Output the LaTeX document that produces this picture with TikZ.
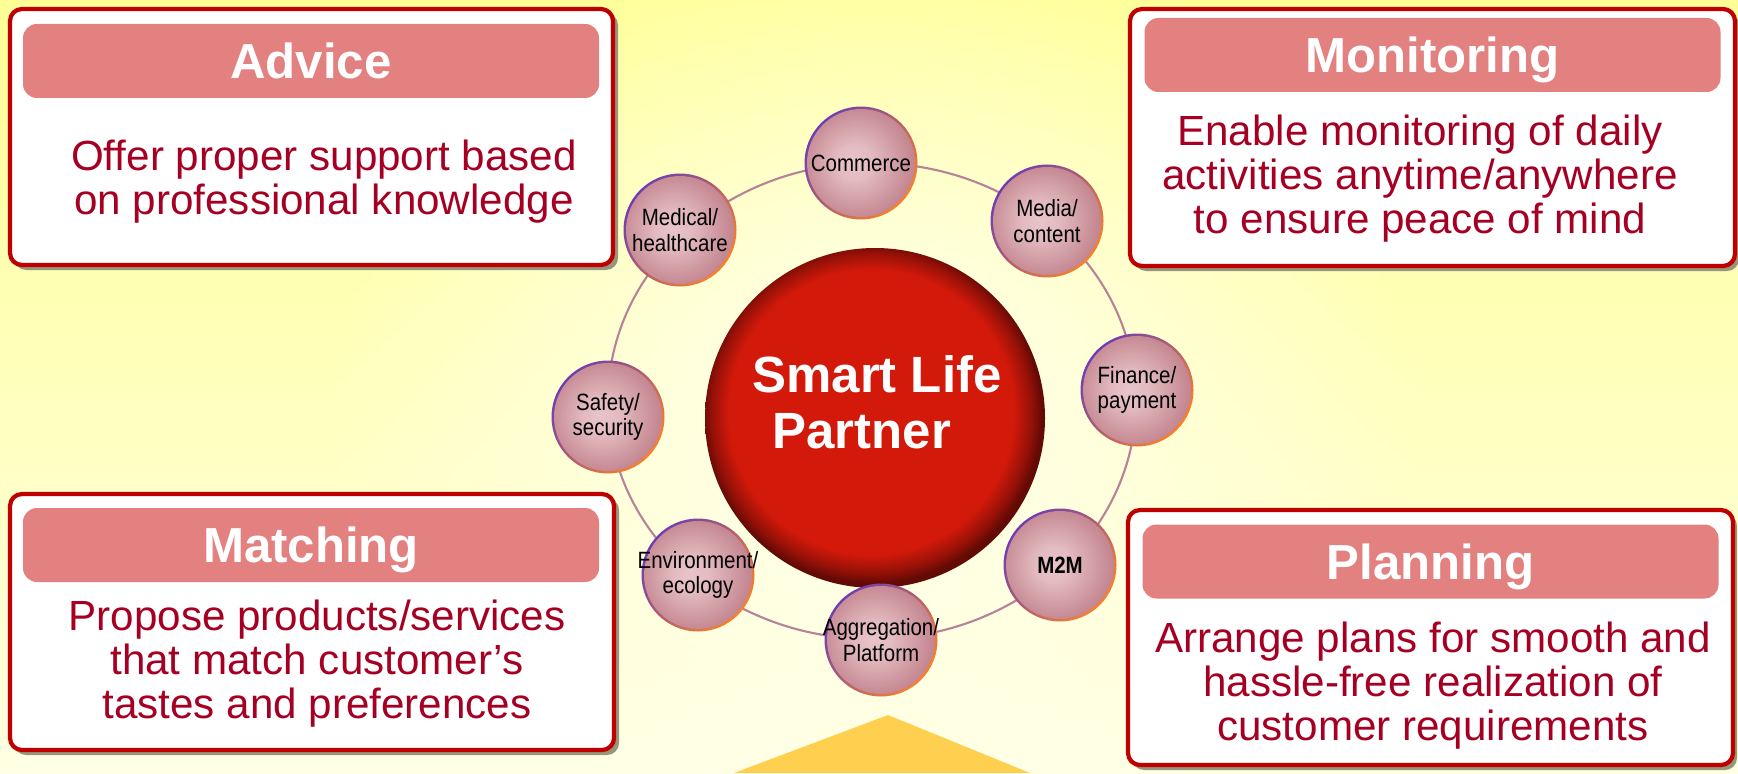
\documentclass[tikz,border=0pt]{standalone}
\usepackage{fontspec}
\setmainfont{Liberation Sans}
\newfontfamily\topicfont[FakeStretch=0.87]{Liberation Sans}
\usepackage{tikz}
\usetikzlibrary{shapes, fadings}
\definecolor{boxred}{RGB}{192, 0, 0}
\definecolor{headpink}{RGB}{227, 128, 128}
\definecolor{bodyred}{RGB}{165, 0, 35}
\definecolor{ringmauve}{RGB}{185, 130, 150}
\definecolor{smartred}{RGB}{210, 25, 10}
\definecolor{smartdark}{RGB}{100, 10, 5}
\definecolor{topicin}{RGB}{232, 196, 200}
\definecolor{topicout}{RGB}{196, 134, 144}
\definecolor{ringpurple}{RGB}{110, 60, 180}
\definecolor{ringred}{RGB}{225, 40, 90}
\definecolor{ringorange}{RGB}{250, 130, 40}
\definecolor{bgtop}{RGB}{255, 255, 150}
\definecolor{bgbottom}{RGB}{255, 255, 228}
\definecolor{glowcream}{RGB}{255, 255, 238}
\definecolor{arrowyellow}{RGB}{255, 208, 80}
\definecolor{shadowgray}{RGB}{150, 150, 125}
\pgfdeclareradialshading{partnerdisc}{\pgfpoint{-1bp}{1.5bp}}{color(0bp)=(smartred); color(21bp)=(smartred); color(23.5bp)=(smartdark!55!smartred); color(25bp)=(smartdark); color(50bp)=(smartdark)}
\pgfdeclareradialshading{topicfill}{\pgfpoint{-2bp}{3bp}}{color(0bp)=(topicin); color(8bp)=(topicin!85!topicout); color(25bp)=(topicout); color(50bp)=(topicout)}
\tikzfading[name=glowfade, inner color=transparent!0, outer color=transparent!100]
\tikzset{
  frame/.style = {draw = boxred, line width = 1.2pt, fill = white, rounded corners = 0.12cm},
  frameshadow/.style = {fill = shadowgray, rounded corners = 0.12cm},
  header/.style = {fill = headpink, rounded corners = 0.14cm, inner sep = 0pt, minimum width = 5.76cm, minimum height = 0.74cm, text = white, font = \bfseries\fontsize{14}{16}\selectfont, text height = 10pt, text depth = 0pt},
  body/.style = {anchor = north, inner sep = 0pt, align = center, text = bodyred, font = \fontsize{12}{12.5}\selectfont},
  topic/.style = {circle, inner xsep = -0.3cm, inner ysep = 0pt, minimum size = 1.13cm, align = center, font = \topicfont\fontsize{6.7}{7.3}\selectfont, top color = ringpurple, middle color = ringred, bottom color = ringorange, shading angle = 50, path picture = {\shade[shading = topicfill] (path picture bounding box.center) circle (0.54cm);}},
  partner/.style = {circle, minimum size = 3.4cm, shade, shading = partnerdisc},
  partnertext/.style = {align = center, text = white, inner sep = 0pt, font = \bfseries\fontsize{14.5}{16}\selectfont},
  ringline/.style = {draw = ringmauve, line width = 0.6pt}
}
\begin{document}
\begin{tikzpicture}
\useasboundingbox (0,0) rectangle (17.38,7.73);
\clip (0,0) rectangle (17.38,7.73);
% background
\shade[top color = bgtop, bottom color = bgbottom] (0,0) rectangle (17.38,7.73);
\fill[glowcream, path fading = glowfade] (8.75,3.6) ellipse [x radius = 5.5, y radius = 5];
\fill[arrowyellow] (7.34,0) -- (8.88,0.58) -- (10.30,0) -- cycle;

% ring of topics
\coordinate (ringcentre) at (8.72,3.72);
\draw[ringline] (ringcentre) ellipse [x radius = 2.64, y radius = 2.38];
\node[partner] (partner) at (8.75,3.55) {};
\node[partnertext] (partnerlabel) at (8.77,3.71) {Smart Life\\Partner\hspace*{0.6em}};
\node[topic] (commerce) at (8.61,6.10) {Commerce};
\node[topic] (media) at (10.47,5.52) {Media/\\content};
\node[topic] (finance) at (11.37,3.83) {Finance/\\payment};
\node[topic] (mtom) at (10.60,2.08) {\bfseries M2M};
\node[topic] (aggregation) at (8.81,1.33) {Aggregation/\\Platform};
\node[topic] (environment) at (6.98,1.98) {Environment/\\ecology};
\node[topic] (safety) at (6.08,3.56) {Safety/\\security};
\node[topic] (medical) at (6.80,5.43) {Medical/\\healthcare};

% Advice
\fill[frameshadow] (0.14,5.03) rectangle (6.18,7.60);
\draw[frame] (0.10,5.08) rectangle (6.13,7.64);
\node[header] (advicehead) at (3.11,7.12) {Advice};
\node[body] (advicetext) at (3.24,6.34) {Offer proper support based\\on professional knowledge};

% Monitoring
\fill[frameshadow] (11.34,5.02) rectangle (17.39,7.60);
\draw[frame] (11.30,5.07) rectangle (17.35,7.64);
\node[header] (monitorhead) at (14.325,7.18) {Monitoring};
\node[body] (monitortext) at (14.20,6.59) {Enable monitoring of daily\\activities anytime/anywhere\\to ensure peace of mind};

% Matching
\fill[frameshadow] (0.14,0.18) rectangle (6.19,2.75);
\draw[frame] (0.10,0.23) rectangle (6.14,2.79);
\node[header] (matchhead) at (3.11,2.28) {Matching};
\node[body] (matchtext) at (3.17,1.74) {Propose products/services\\that match customer’s\\tastes and preferences};

% Planning
\fill[frameshadow] (11.32,0.03) rectangle (17.37,2.59);
\draw[frame] (11.28,0.08) rectangle (17.33,2.63);
\node[header] (planhead) at (14.305,2.115) {Planning};
\node[body] (plantext) at (14.33,1.52) {Arrange plans for smooth and\\hassle-free realization of\\customer requirements};
\end{tikzpicture}
\end{document}
